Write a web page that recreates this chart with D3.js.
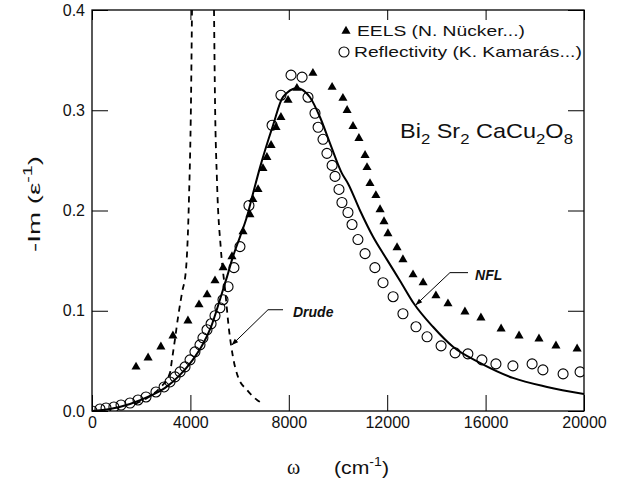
<!DOCTYPE html>
<html>
<head>
<meta charset="utf-8">
<style>
  body { margin: 0; background: #fff; }
  svg { display: block; font-family: "Liberation Sans", Arial, sans-serif; }
</style>
</head>
<body>
<div id="chart"></div>
<script src="https://cdnjs.cloudflare.com/ajax/libs/d3/7.8.5/d3.min.js"></script>
<script>
// values: [omega (cm^-1), -Im(1/eps)]
const eels = [
  [1790, 0.044], [2280, 0.053], [2800, 0.064], [3290, 0.075], [3900, 0.090],
  [4350, 0.106], [4680, 0.116], [5000, 0.130], [5330, 0.143], [5690, 0.154],
  [6140, 0.179], [6420, 0.196], [6540, 0.211], [6750, 0.221], [6950, 0.242],
  [7110, 0.253], [7280, 0.265], [7480, 0.283], [7680, 0.293], [7970, 0.310],
  [8330, 0.322], [8980, 0.337], [9760, 0.323], [10200, 0.312], [10370, 0.300],
  [10610, 0.284], [10850, 0.272], [11100, 0.255], [11180, 0.243], [11300, 0.227],
  [11540, 0.215], [11710, 0.201], [11870, 0.189], [12030, 0.177], [12400, 0.163],
  [12640, 0.151], [13050, 0.136], [13460, 0.128], [13980, 0.115], [14470, 0.107],
  [15160, 0.099], [15810, 0.093], [16630, 0.082], [17360, 0.075], [18170, 0.072],
  [18860, 0.065], [19720, 0.062]
];
const refl = [
  [0, 0.000], [325, 0.002], [570, 0.003], [890, 0.004], [1180, 0.006],
  [1545, 0.008], [1870, 0.011], [2195, 0.014], [2600, 0.019], [2930, 0.024],
  [3170, 0.029], [3375, 0.034], [3580, 0.039], [3780, 0.044], [3985, 0.051],
  [4185, 0.059], [4390, 0.066], [4510, 0.073], [4675, 0.081], [4840, 0.087],
  [5000, 0.095], [5200, 0.103], [5325, 0.111], [5530, 0.124], [5770, 0.143],
  [6015, 0.164], [6380, 0.205], [7320, 0.285], [7680, 0.315], [8090, 0.335],
  [8540, 0.333], [8780, 0.313], [9065, 0.297], [9190, 0.283], [9390, 0.271],
  [9550, 0.257], [9760, 0.245], [9880, 0.234], [10040, 0.221], [10160, 0.208],
  [10405, 0.198], [10570, 0.186], [10810, 0.171], [11100, 0.157], [11500, 0.143],
  [11830, 0.128], [12240, 0.114], [12640, 0.097], [13170, 0.084], [13620, 0.074],
  [14190, 0.065], [14760, 0.058], [15280, 0.057], [15850, 0.051], [16420, 0.047],
  [17110, 0.045], [17890, 0.047], [18330, 0.041], [19150, 0.037], [19840, 0.039]
];
const nfl = [
  [0, 0.000], [730, 0.002], [1545, 0.007], [2360, 0.015], [2970, 0.023],
  [3580, 0.036], [4065, 0.050], [4470, 0.065], [4840, 0.084], [5200, 0.111],
  [5490, 0.134], [5730, 0.154], [6020, 0.174], [6300, 0.194], [6545, 0.217],
  [6830, 0.243], [7360, 0.285], [7760, 0.313], [8330, 0.322], [8860, 0.313],
  [9270, 0.293], [9675, 0.267], [10160, 0.237], [10405, 0.227], [10895, 0.200],
  [11420, 0.174], [11990, 0.151], [12520, 0.130], [13090, 0.107], [13860, 0.084],
  [14675, 0.064], [15770, 0.048], [17110, 0.033], [18500, 0.024], [20000, 0.017]
];
const drudeLeft = [
  [1750, 0.007], [2240, 0.013], [2760, 0.023], [3170, 0.038], [3250, 0.051],
  [3370, 0.071], [3500, 0.094], [3660, 0.118], [3820, 0.141], [3940, 0.210],
  [4025, 0.310], [4065, 0.400]
];
const drudeRight = [
  [4960, 0.400], [5000, 0.310], [5080, 0.230], [5240, 0.161], [5410, 0.121],
  [5570, 0.081], [5730, 0.054], [5935, 0.034], [6300, 0.021], [6710, 0.011],
  [6910, 0.008]
];
const xTicks = [0, 4000, 8000, 12000, 16000, 20000];
const yTicks = [0, 0.1, 0.2, 0.3, 0.4];

const width = 626, height = 484;

const svg = d3.select("#chart").append("svg")
  .attr("width", width)
  .attr("height", height);

const x = d3.scaleLinear().domain([0, 20000]).range([92, 584]);
const y = d3.scaleLinear().domain([0, 0.4]).range([411, 10]);

svg.append("defs").append("clipPath").attr("id", "plot")
  .append("rect")
  .attr("x", x(0)).attr("y", y(0.4))
  .attr("width", x(20000) - x(0)).attr("height", y(0) - y(0.4));

svg.append("defs").append("marker")
  .attr("id", "arrow")
  .attr("viewBox", "0 0 10 10")
  .attr("refX", 9).attr("refY", 5)
  .attr("markerWidth", 7).attr("markerHeight", 7)
  .attr("markerUnits", "userSpaceOnUse")
  .attr("orient", "auto")
  .append("path")
  .attr("d", "M0,1.5 L10,5 L0,8.5 Z")
  .attr("fill", "#000");

// axes, ticks pointing inward
function styleAxis(g) {
  g.select(".domain").remove();
  g.selectAll(".tick line").attr("stroke", "#000").attr("stroke-width", 1);
  g.selectAll(".tick text").attr("fill", "#111")
    .attr("font-family", "Liberation Sans, Arial, sans-serif")
    .attr("font-size", 16);
}

svg.append("g")
  .attr("transform", `translate(0,${y(0)})`)
  .call(d3.axisBottom(x).tickValues(xTicks).tickSize(-16).tickPadding(6).tickFormat(d3.format("d")))
  .call(styleAxis);

svg.append("g")
  .attr("transform", `translate(0,${y(0.4)})`)
  .call(d3.axisTop(x).tickValues(xTicks).tickSize(-10).tickFormat(""))
  .call(styleAxis);

svg.append("g")
  .attr("transform", `translate(${x(0)},0)`)
  .call(d3.axisLeft(y).tickValues(yTicks).tickSize(-16).tickPadding(7).tickFormat(d3.format(".1f")))
  .call(styleAxis);

svg.append("g")
  .attr("transform", `translate(${x(20000)},0)`)
  .call(d3.axisRight(y).tickValues(yTicks).tickSize(-16).tickFormat(""))
  .call(styleAxis);

svg.append("rect")
  .attr("x", x(0)).attr("y", y(0.4))
  .attr("width", x(20000) - x(0)).attr("height", y(0) - y(0.4))
  .attr("fill", "none").attr("stroke", "#000").attr("stroke-width", 1.3);

const line = d3.line()
  .x(d => x(d[0]))
  .y(d => y(d[1]))
  .curve(d3.curveMonotoneX);

const plot = svg.append("g").attr("clip-path", "url(#plot)");

plot.selectAll("path.drude")
  .data([drudeLeft, drudeRight])
  .join("path")
  .attr("class", "drude")
  .attr("d", line)
  .attr("fill", "none")
  .attr("stroke", "#000")
  .attr("stroke-width", 1.8)
  .attr("stroke-dasharray", "6,5");

plot.append("path")
  .datum(nfl)
  .attr("d", line)
  .attr("fill", "none")
  .attr("stroke", "#000")
  .attr("stroke-width", 2);

plot.selectAll("circle.refl")
  .data(refl)
  .join("circle")
  .attr("class", "refl")
  .attr("cx", d => x(d[0]))
  .attr("cy", d => y(d[1]))
  .attr("r", 5)
  .attr("fill", "none")
  .attr("stroke", "#000")
  .attr("stroke-width", 1.1);

const tri = d3.symbol().type(d3.symbolTriangle).size(36);

svg.selectAll("path.eels")
  .data(eels)
  .join("path")
  .attr("class", "eels")
  .attr("transform", d => `translate(${x(d[0])},${y(d[1])})`)
  .attr("d", tri)
  .attr("fill", "#000");

// stretch a text horizontally so that it spans the width seen in the figure
function fit(sel, x0, base, w) {
  const bb = sel.node().getBBox();
  sel.attr("transform", `translate(${x0},${base}) scale(${w / bb.width},1)`);
}

// legend
svg.append("path")
  .attr("transform", "translate(346,31)")
  .attr("d", tri)
  .attr("fill", "#000");
svg.append("circle")
  .attr("cx", 344).attr("cy", 52).attr("r", 5)
  .attr("fill", "none").attr("stroke", "#000").attr("stroke-width", 1.1);

const leg1 = svg.append("text").attr("font-size", 14).attr("fill", "#111")
  .text("EELS  (N. Nücker...)");
fit(leg1, 357, 36, 168);
const leg2 = svg.append("text").attr("font-size", 14).attr("fill", "#111")
  .text("Reflectivity  (K. Kamarás...)");
fit(leg2, 354, 57, 228);

// compound
const formula = svg.append("text").attr("font-size", 21).attr("fill", "#111");
[["Bi", 0], ["2", 1], [" Sr", 0], ["2", 1], [" CaCu", 0], ["2", 1], ["O", 0], ["8", 1]]
  .forEach(([t, sub], i, arr) => {
    const prevSub = i > 0 ? arr[i - 1][1] : 0;
    formula.append("tspan")
      .attr("font-size", sub ? 15 : 21)
      .attr("dy", sub === prevSub ? 0 : (sub ? 6 : -6))
      .text(t);
  });
fit(formula, 400, 138, 173);

// annotations (data units)
const drudeNote = { text: [8170, 0.094], from: [7765, 0.101], elbow: [7155, 0.101], tip: [5690, 0.066] };
const nflNote = { text: [15570, 0.131], from: [15285, 0.138], elbow: [14550, 0.138], tip: [13170, 0.106] };

[["Drude", drudeNote], ["NFL", nflNote]].forEach(([label, n]) => {
  svg.append("path")
    .attr("d", d3.line()([n.from, n.elbow, n.tip].map(p => [x(p[0]), y(p[1])])))
    .attr("fill", "none")
    .attr("stroke", "#000")
    .attr("stroke-width", 1)
    .attr("marker-end", "url(#arrow)");
  svg.append("text")
    .attr("x", x(n.text[0])).attr("y", y(n.text[1]))
    .attr("font-size", 14)
    .attr("font-weight", "bold")
    .attr("font-style", "italic")
    .attr("fill", "#111")
    .text(label);
});

// axis titles
svg.append("text")
  .attr("x", 287).attr("y", 474)
  .attr("font-family", "Liberation Serif, Times New Roman, serif")
  .attr("font-size", 20)
  .attr("fill", "#111")
  .text("ω");
const xt = svg.append("text").attr("font-size", 18).attr("fill", "#111");
xt.append("tspan").text("(cm");
xt.append("tspan").attr("font-size", 12).attr("dy", -8).text("-1");
xt.append("tspan").attr("dy", 8).text(")");
fit(xt, 334, 474, 55);

const yt = svg.append("text").attr("font-size", 17).attr("fill", "#111");
yt.append("tspan").text("-Im   (ε");
yt.append("tspan").attr("font-size", 12).attr("dy", -8).text("-1");
yt.append("tspan").attr("dy", 8).text(")");
const ybb = yt.node().getBBox();
const ylen = 96;
yt.attr("transform", `translate(40,${204 + ylen / 2}) rotate(-90) scale(${ylen / ybb.width},1)`);
</script>
</body>
</html>
